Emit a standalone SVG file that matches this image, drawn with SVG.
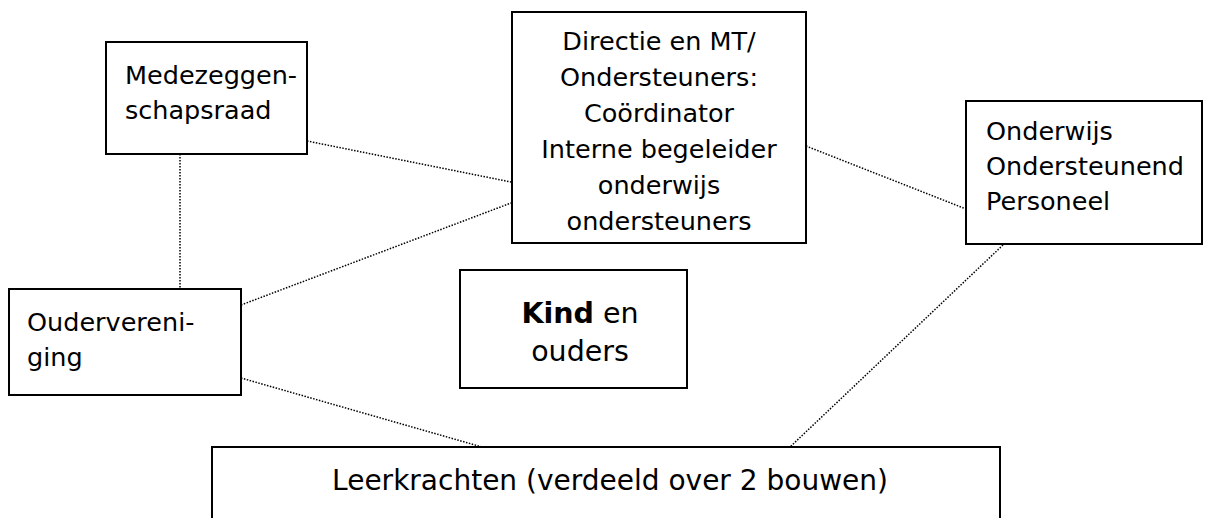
<svg xmlns="http://www.w3.org/2000/svg" width="1205" height="518" viewBox="0 0 1205 518">
<style>
.box{fill:#fff;stroke:#000;stroke-width:2}
.t{font-family:"DejaVu Sans",Verdana,sans-serif;font-size:25.5px;fill:#000}
.l{font-family:"DejaVu Sans",Verdana,sans-serif;font-size:28px;fill:#000}
.k{font-family:"DejaVu Sans",Verdana,sans-serif;font-size:28.5px;fill:#000}
.c line{stroke:#000;stroke-width:1.5;stroke-dasharray:1.5 1.5;fill:none}
</style>
<rect width="1205" height="518" fill="#fff"/>
<g id="connectors" class="c">
<line x1="180" y1="154" x2="180" y2="289"/>
<line x1="307" y1="141" x2="511" y2="182"/>
<line x1="241" y1="305" x2="511" y2="203"/>
<line x1="241" y1="378" x2="482" y2="447"/>
<line x1="806" y1="146" x2="966" y2="209"/>
<line x1="1003" y1="245" x2="790" y2="447"/>
</g>
<g id="medezeggenschapsraad">
<rect class="box" x="106" y="42" width="201" height="112"/>
<text class="t" x="125" y="84">Medezeggen-</text>
<text class="t" x="125" y="119">schapsraad</text>
</g>
<g id="directie">
<rect class="box" x="512" y="12" width="294" height="231"/>
<text class="t" text-anchor="middle" x="659" y="50">Directie en MT/</text>
<text class="t" text-anchor="middle" x="659" y="86">Ondersteuners:</text>
<text class="t" text-anchor="middle" x="659" y="122">Coördinator</text>
<text class="t" text-anchor="middle" x="659" y="158">Interne begeleider</text>
<text class="t" text-anchor="middle" x="659" y="194">onderwijs</text>
<text class="t" text-anchor="middle" x="659" y="230">ondersteuners</text>
</g>
<g id="oop">
<rect class="box" x="966" y="101" width="236" height="143"/>
<text class="t" x="986" y="140">Onderwijs</text>
<text class="t" x="986" y="175">Ondersteunend</text>
<text class="t" x="986" y="210">Personeel</text>
</g>
<g id="oudervereniging">
<rect class="box" x="9" y="289" width="232" height="106"/>
<text class="t" x="27" y="331">Oudervereni-</text>
<text class="t" x="27" y="366">ging</text>
</g>
<g id="kind">
<rect class="box" x="460" y="270" width="227" height="118"/>
<text class="k" text-anchor="middle" x="580" y="323"><tspan font-weight="bold">Kind</tspan> en</text>
<text class="k" text-anchor="middle" x="580" y="361">ouders</text>
</g>
<g id="leerkrachten">
<rect class="box" x="212" y="447" width="788" height="80"/>
<text class="l" text-anchor="middle" x="610" y="490">Leerkrachten (verdeeld over 2 bouwen)</text>
</g>
</svg>
